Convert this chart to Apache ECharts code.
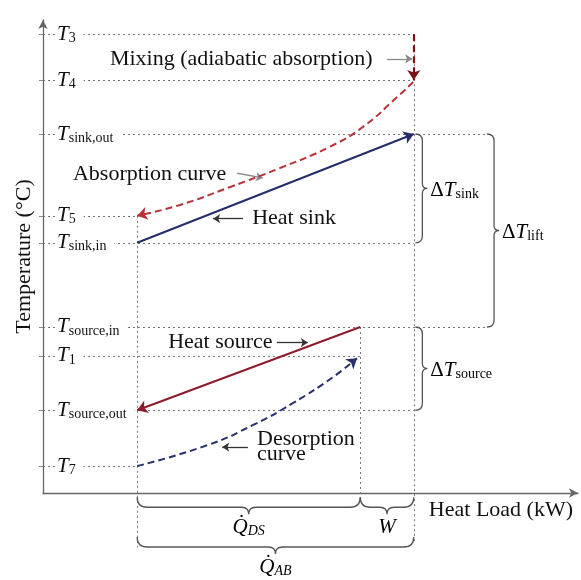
<!DOCTYPE html>
<html>
<head>
<meta charset="utf-8">
<title>Temperature vs heat load</title>
<script src="https://cdn.jsdelivr.net/npm/echarts@6/dist/echarts.min.js"></script>
<style>
  html, body { margin: 0; padding: 0; background: #fff; }
  #chart { width: 581px; height: 580px; }
</style>
</head>
<body>
<div id="chart"></div>
<script>
// temperature levels (0-100 scale) and their subscripts
const levelSubs = ['3', '4', 'sink,out', '5', 'sink,in', 'source,in', '1', 'source,out', '7'];
const levelTemps = [97.0, 87.3, 75.9, 58.6, 52.9, 35.1, 29.0, 17.5, 5.7];
const T = {};
levelSubs.forEach((s, i) => { T[s] = levelTemps[i]; });

// heat load positions (0-100 scale)
const loadStart = 17.6;
const loadDS = 59.3;
const loadAB = 69.3;
const loadLift = 83.0;

// where each level's dotted guide ends
const guideEnds = [loadAB, loadAB, loadLift, loadStart, loadAB, loadLift, loadDS, loadAB, loadStart];
// vertical guides: [load, top temp, bottom temp]
const verticalGuides = [[loadStart, T['5'], -11.5], [loadDS, T['source,in'], -1.2], [loadAB, T['3'], -10.5]];

// process lines
const heatSink = [[loadStart, T['sink,in']], [loadAB, T['sink,out']]];
const heatSource = [[loadDS, T['source,in']], [loadStart, T['source,out']]];
const mixing = [[loadAB, T['3']], [loadAB, T['4']]];
const absorption = [
  [69.2, 86.9], [66.2, 83.7], [59.8, 77.4], [53.6, 73.2],
  [44.3, 68.7], [35.0, 64.7], [25.6, 60.9], [loadStart, T['5']]
];
const desorption = [
  [loadStart, T['7']], [30.7, 10.1], [39.3, 14.4],
  [46.7, 19.0], [54.2, 24.5], [58.7, 28.5]
];

// text notes and their pointers
const noteTexts = ['Mixing (adiabatic absorption)', 'Absorption curve', 'Heat sink', 'Heat source', 'Desorption\ncurve'];
const notePos = [[12.5, 91.8], [5.6, 67.4], [39.1, 58.0], [23.4, 31.8], [40.0, 9.8]];
const greyPointers = [
  [[64.3, 91.8], [69.0, 91.8]],
  [[36.3, 67.6], [41.1, 66.6]]
];
const darkPointers = [
  [[37.4, 58.0], [31.8, 58.0]],
  [[43.7, 31.8], [49.5, 31.8]],
  [[38.3, 9.7], [33.5, 9.7]]
];

// braces: span from/to, position, side
const braceLabels = [
  '{d|Δ}{t|T}{s|sink}', '{d|Δ}{t|T}{s|lift}', '{d|Δ}{t|T}{s|source}',
  '{t|Q̇}{si|DS}', '{t|W}', '{t|Q̇}{si|AB}'
];
const braceFrom = [T['sink,in'], T['source,in'], T['source,out'], loadStart, loadDS, loadStart];
const braceTo = [T['sink,out'], T['sink,out'], T['source,in'], loadDS, loadAB, loadAB];
const braceAt = [69.6, loadLift, 69.6, -0.9, -0.9, -9.3];
const braceSide = ['right', 'right', 'right', 'down', 'down', 'down'];

const serif = 'Liberation Serif';
const ink = '#111';
const richText = {
  d: { fontFamily: serif, fontSize: 21, color: ink, lineHeight: 22 },
  t: { fontFamily: serif, fontSize: 21, fontStyle: 'italic', color: ink, lineHeight: 22 },
  s: { fontFamily: serif, fontSize: 14, color: ink, lineHeight: 10, verticalAlign: 'bottom' },
  si: { fontFamily: serif, fontSize: 14, fontStyle: 'italic', color: ink, lineHeight: 10, verticalAlign: 'bottom' }
};

const chart = echarts.init(document.getElementById('chart'));

function lineSeries(data, color, type, arrow, width) {
  return {
    type: 'lines',
    coordinateSystem: 'cartesian2d',
    clip: false,
    silent: true,
    symbol: arrow ? ['none', 'arrow'] : 'none',
    symbolSize: arrow || 0,
    lineStyle: { color: color, width: width, type: type, opacity: 1 },
    data: data.map(c => ({ coords: c }))
  };
}

// smooth dashed curve through the read points
function curveSeries(points, color) {
  return {
    type: 'line',
    silent: true,
    smooth: 0.5,
    showSymbol: false,
    symbol: 'none',
    lineStyle: { color: color, width: 2, type: [7, 4] },
    data: points
  };
}

// arrowhead only, pointing along the last read segment of a curve
function headSeries(curve, color) {
  return lineSeries([curve.slice(-2)], color, 'solid', 10, 0);
}

function braceItem(params, api) {
  const i = params.dataIndex;
  const a = api.value(0), b = api.value(1), at = api.value(2);
  let path, tx, ty, align, valign;
  if (braceSide[i] === 'right') {
    const p1 = api.coord([at, a]), p2 = api.coord([at, b]);
    const c = p1[0];
    const top = Math.min(p1[1], p2[1]), bot = Math.max(p1[1], p2[1]);
    const m = (top + bot) / 2, d1 = 7, d2 = 5;
    path = 'M' + c + ' ' + top + ' Q' + (c + d1) + ' ' + top + ' ' + (c + d1) + ' ' + (top + d1) +
      ' L' + (c + d1) + ' ' + (m - d2) + ' Q' + (c + d1) + ' ' + m + ' ' + (c + d1 + d2) + ' ' + m +
      ' Q' + (c + d1) + ' ' + m + ' ' + (c + d1) + ' ' + (m + d2) +
      ' L' + (c + d1) + ' ' + (bot - d1) + ' Q' + (c + d1) + ' ' + bot + ' ' + c + ' ' + bot;
    tx = c + d1 + d2 + 3; ty = m + 2; align = 'left'; valign = 'middle';
  } else {
    const p1 = api.coord([a, at]), p2 = api.coord([b, at]);
    const y = p1[1];
    const l = Math.min(p1[0], p2[0]), r = Math.max(p1[0], p2[0]);
    const m = (l + r) / 2, d1 = 10, d2 = 7;
    path = 'M' + l + ' ' + y + ' Q' + l + ' ' + (y + d1) + ' ' + (l + d1) + ' ' + (y + d1) +
      ' L' + (m - d2) + ' ' + (y + d1) + ' Q' + m + ' ' + (y + d1) + ' ' + m + ' ' + (y + d1 + d2) +
      ' Q' + m + ' ' + (y + d1) + ' ' + (m + d2) + ' ' + (y + d1) +
      ' L' + (r - d1) + ' ' + (y + d1) + ' Q' + r + ' ' + (y + d1) + ' ' + r + ' ' + y;
    tx = m; ty = y + d1 + d2 + 2; align = 'center'; valign = 'top';
  }
  return {
    type: 'group',
    children: [
      { type: 'path', shape: { pathData: path }, style: { fill: 'none', stroke: '#555', lineWidth: 1.3 } },
      { type: 'text', x: tx, y: ty, style: { text: braceLabels[i], rich: richText, align: align, verticalAlign: valign } }
    ]
  };
}

chart.setOption({
  animation: false,
  backgroundColor: '#fff',
  grid: { left: 43, right: 3, top: 20, bottom: 87 },
  xAxis: {
    type: 'value', min: 0, max: 100,
    name: 'Heat Load (kW)', nameLocation: 'end', nameGap: -5,
    nameTextStyle: { fontFamily: serif, fontSize: 22, color: ink, align: 'right', verticalAlign: 'top', padding: [6, 0, 0, 0] },
    axisLine: { lineStyle: { color: '#666', width: 1.3 }, symbol: ['none', 'arrow'], symbolSize: [7, 9] },
    axisTick: { show: false }, axisLabel: { show: false }, splitLine: { show: false }
  },
  yAxis: {
    type: 'value', min: 0, max: 100, z: 5,
    name: 'Temperature (°C)', nameLocation: 'middle', nameRotate: 90, nameGap: 8,
    nameTextStyle: { fontFamily: serif, fontSize: 22, color: ink },
    axisLine: { show: true, lineStyle: { color: '#666', width: 1.3 }, symbol: ['none', 'arrow'], symbolSize: [7, 9] },
    axisTick: { show: true, customValues: levelTemps, length: 4, lineStyle: { color: '#888' } },
    axisLabel: {
      inside: true, margin: 12, customValues: levelTemps,
      backgroundColor: '#fff', padding: [0, 8, 0, 2],
      formatter: function (v) {
        const i = levelTemps.indexOf(v);
        return i < 0 ? '' : '{t|T}{s|' + levelSubs[i] + '}';
      },
      rich: richText
    },
    splitLine: { show: false }
  },
  series: [
    // dotted guides
    lineSeries(levelTemps.map((t, i) => [[0, t], [guideEnds[i], t]]), '#777', [2, 3], 0, 1),
    lineSeries(verticalGuides.map(g => [[g[0], g[1]], [g[0], g[2]]]), '#777', [2, 3], 0, 1),
    // processes
    lineSeries([heatSink], '#262d6b', 'solid', 10, 2),
    lineSeries([heatSource], '#8e1b2c', 'solid', 10, 2),
    lineSeries([mixing], '#7a1414', [7, 4], 10, 2.2),
    curveSeries(absorption, '#b8323a'),
    headSeries(absorption, '#b8323a'),
    curveSeries(desorption, '#27306a'),
    headSeries(desorption, '#27306a'),
    // pointers
    lineSeries(greyPointers, '#8a8a8a', 'solid', 7, 1.3),
    lineSeries(darkPointers, '#333', 'solid', 7, 1.3),
    {
      type: 'custom',
      coordinateSystem: 'cartesian2d',
      silent: true,
      clip: false,
      renderItem: braceItem,
      data: braceFrom.map((f, i) => [f, braceTo[i], braceAt[i]])
    },
    {
      type: 'scatter',
      silent: true,
      symbolSize: 0,
      itemStyle: { opacity: 1 },
      label: {
        show: true, position: 'right', distance: 0,
        fontFamily: serif, fontSize: 22, color: ink, lineHeight: 15,
        formatter: p => noteTexts[p.dataIndex]
      },
      data: notePos
    }
  ]
});
</script>
</body>
</html>
